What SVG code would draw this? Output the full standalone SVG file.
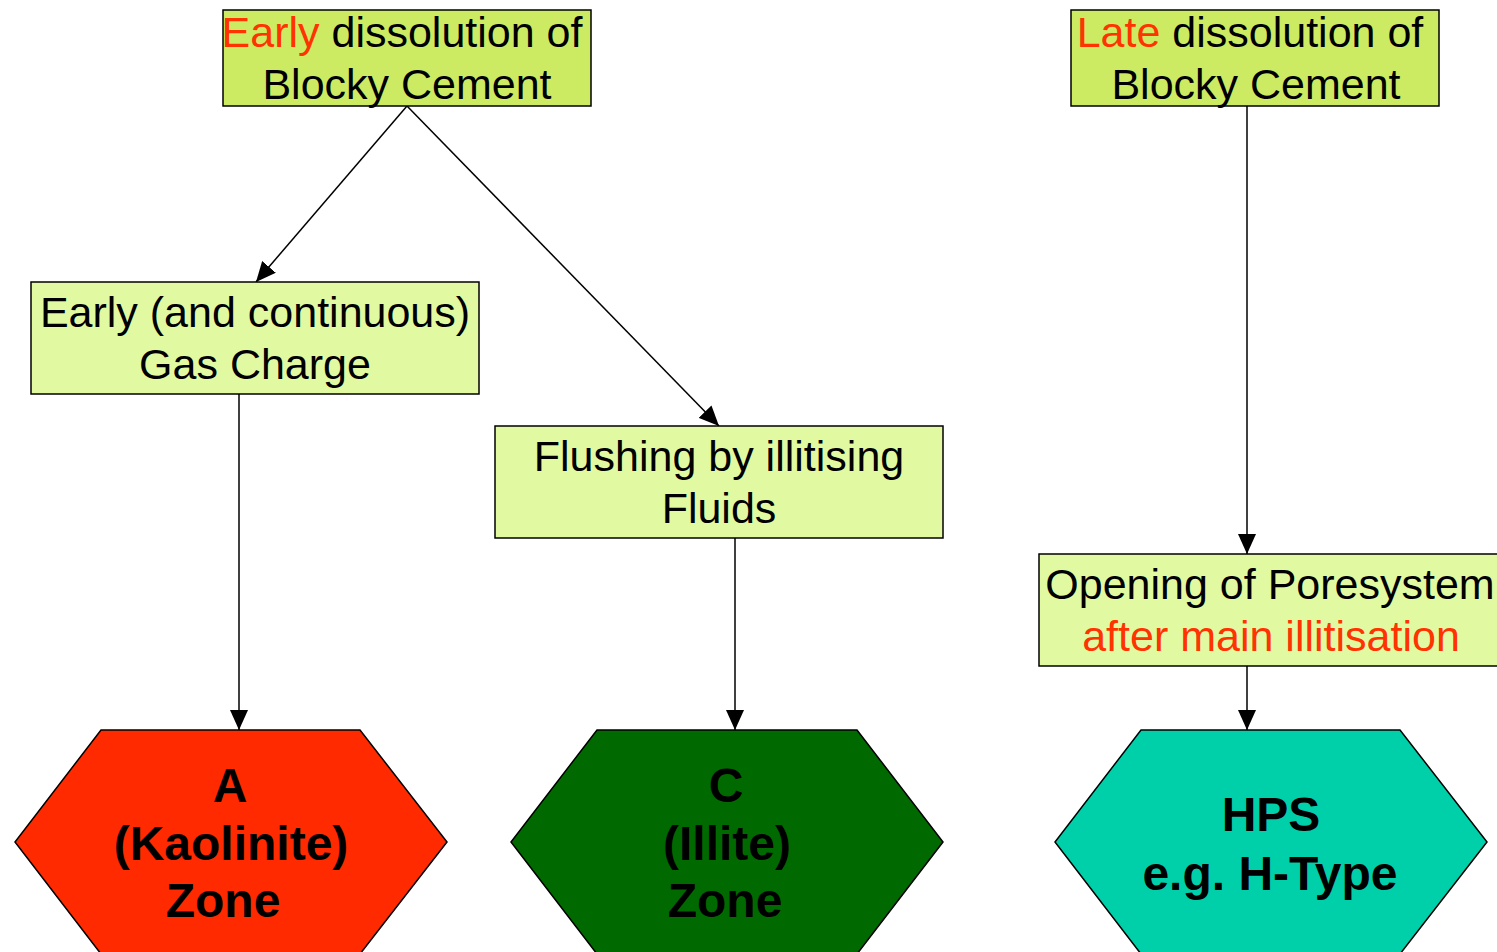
<svg xmlns="http://www.w3.org/2000/svg" width="1497" height="952" viewBox="0 0 1497 952">
<defs>
<marker id="arr" viewBox="0 0 20 18" refX="20" refY="9" markerWidth="20" markerHeight="18" markerUnits="userSpaceOnUse" orient="auto">
<path d="M0,0 L20,9 L0,18 Z" fill="#000"/>
</marker>
<style>
.top{fill:#CCEB62;stroke:#000;stroke-width:1.5}
.mid{fill:#E1FAA2;stroke:#000;stroke-width:1.5}
.t{font-family:"Liberation Sans",Arial,sans-serif;font-size:43px;fill:#000;text-anchor:middle}
.r{fill:#FF3300}
.h{font-family:"Liberation Sans",Arial,sans-serif;font-size:48px;font-weight:bold;fill:#000;text-anchor:middle}
.hex{stroke:#000;stroke-width:1.5}
.c{stroke:#000;stroke-width:1.5;fill:none;marker-end:url(#arr)}
</style>
</defs>
<rect width="1497" height="952" fill="#fff"/>
<g id="connectors">
<line class="c" x1="407" y1="106" x2="256" y2="282"/>
<line class="c" x1="407" y1="106" x2="719" y2="426"/>
<line class="c" x1="239" y1="394" x2="239" y2="730"/>
<line class="c" x1="735" y1="538" x2="735" y2="730"/>
<line class="c" x1="1247" y1="106" x2="1247" y2="554"/>
<line class="c" x1="1247" y1="666" x2="1247" y2="730"/>
</g>
<g id="early">
<rect class="top" x="223" y="10" width="368" height="96"/>
<text class="t" x="402" y="47"><tspan class="r">Early</tspan> dissolution of</text>
<text class="t" x="407" y="99">Blocky Cement</text>
</g>
<g id="late">
<rect class="top" x="1071" y="10" width="368" height="96"/>
<text class="t" x="1250" y="47"><tspan class="r">Late</tspan> dissolution of</text>
<text class="t" x="1256" y="99">Blocky Cement</text>
</g>
<g id="gas">
<rect class="mid" x="31" y="282" width="448" height="112"/>
<text class="t" x="255" y="327">Early (and continuous)</text>
<text class="t" x="255" y="379">Gas Charge</text>
</g>
<g id="flush">
<rect class="mid" x="495" y="426" width="448" height="112"/>
<text class="t" x="719" y="471">Flushing by illitising</text>
<text class="t" x="719" y="523">Fluids</text>
</g>
<g id="opening">
<rect class="mid" x="1039" y="554" width="460" height="112"/>
<text class="t" x="1270" y="599">Opening of Poresystem</text>
<text class="t r" x="1271" y="651">after main illitisation</text>
</g>
<g id="zoneA">
<polygon class="hex" fill="#FF2A00" points="101,730 360,730 447,842 360,954 101,954 15,842"/>
<text class="h" x="230" y="802">A</text>
<text class="h" x="231" y="860">(Kaolinite)</text>
<text class="h" x="223" y="917">Zone</text>
</g>
<g id="zoneC">
<polygon class="hex" fill="#006A00" points="597,730 857,730 943,842 857,954 597,954 511,842"/>
<text class="h" x="726" y="802">C</text>
<text class="h" x="727" y="860">(Illite)</text>
<text class="h" x="725" y="917">Zone</text>
</g>
<g id="hps">
<polygon class="hex" fill="#00D0AA" points="1141,730 1400,730 1487,842 1400,954 1141,954 1055,842"/>
<text class="h" x="1271" y="831">HPS</text>
<text class="h" x="1270" y="890">e.g. H-Type</text>
</g>
</svg>
